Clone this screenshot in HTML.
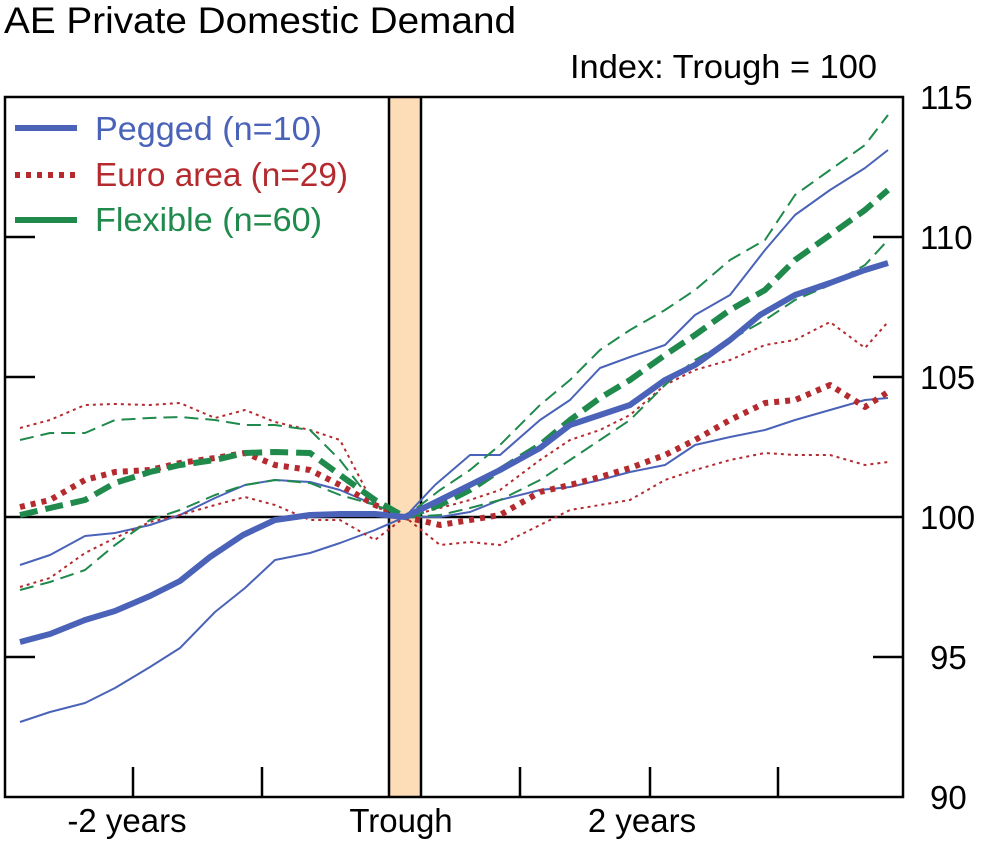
<!DOCTYPE html>
<html><head><style>
body{margin:0;background:#fff;}
svg text{font-family:"Liberation Sans",sans-serif;}
</style></head><body>
<svg width="988" height="841" viewBox="0 0 988 841" xmlns="http://www.w3.org/2000/svg">
<rect x="389" y="97" width="32" height="700" fill="#fddcb8"/>
<text x="4" y="33" font-size="37" fill="#000" textLength="512" lengthAdjust="spacingAndGlyphs">AE Private Domestic Demand</text>
<text x="877" y="78" font-size="33" text-anchor="end" fill="#000" textLength="307" lengthAdjust="spacingAndGlyphs">Index: Trough = 100</text>
<g stroke="#000" stroke-width="2.5" fill="none">
<rect x="5" y="97" width="898" height="700"/>
<line x1="5" y1="517" x2="903" y2="517"/>
<line x1="389" y1="97" x2="389" y2="797"/>
<line x1="421" y1="97" x2="421" y2="797"/>
<line x1="903" y1="237" x2="873" y2="237"/><line x1="903" y1="377" x2="873" y2="377"/><line x1="903" y1="657" x2="873" y2="657"/>
<line x1="5" y1="237" x2="35" y2="237"/><line x1="5" y1="377" x2="35" y2="377"/><line x1="5" y1="657" x2="35" y2="657"/>
<line x1="133" y1="797" x2="133" y2="767"/><line x1="262" y1="797" x2="262" y2="767"/><line x1="520" y1="797" x2="520" y2="767"/><line x1="650" y1="797" x2="650" y2="767"/><line x1="778" y1="797" x2="778" y2="767"/>
</g>
<g font-size="33" fill="#000">
<text x="920" y="109">115</text><text x="920" y="249">110</text><text x="920" y="389">105</text><text x="920" y="529">100</text><text x="930" y="669">95</text><text x="930" y="809">90</text>
<text x="127" y="832" text-anchor="middle">-2 years</text>
<text x="401" y="832" text-anchor="middle">Trough</text>
<text x="642" y="832" text-anchor="middle">2 years</text>
</g>
<g fill="none" stroke-linejoin="round">
<polyline stroke="#4a63b8" stroke-width="2" points="20,565 50,555 85,536 115,533 150,525 180,515 215,498 245,485 275,480 310,482 340,490 375,505 405,517 435,485 470,455 500,455 540,420 570,400 600,368 630,357 665,345 695,315 730,295 765,250 795,215 830,190 865,168 888,150"/>
<polyline stroke="#4a63b8" stroke-width="2" points="20,722 50,712 85,703 115,688 150,667 180,648 215,612 245,588 275,560 310,553 340,543 375,530 405,517 440,517 470,512 500,500 540,490 570,487 600,480 630,472 665,465 695,445 730,437 765,430 795,420 830,410 865,400 888,398"/>
<polyline stroke="#b52a2e" stroke-width="2" stroke-dasharray="3,4" points="20,428 50,420 85,405 115,404 150,405 180,403 215,418 245,410 275,422 310,430 340,440 375,507 405,517 440,508 470,500 500,490 540,460 570,440 600,430 630,415 665,385 695,370 730,360 765,345 795,340 830,322 865,348 888,322"/>
<polyline stroke="#b52a2e" stroke-width="2" stroke-dasharray="3,4" points="20,587 50,578 85,553 115,538 150,522 180,515 215,505 245,497 275,505 310,520 340,520 375,540 405,517 440,545 470,542 500,545 540,525 570,510 600,505 630,500 665,480 695,470 730,460 765,453 795,455 830,455 865,465 888,462"/>
<polyline stroke="#1f8a4c" stroke-width="2" stroke-dasharray="14,7" points="20,440 50,433 85,433 115,420 150,418 180,417 215,420 245,425 275,425 310,430 340,460 375,505 405,517 440,490 470,470 500,445 540,405 570,380 600,350 630,330 665,310 695,290 730,260 765,240 795,195 830,170 865,145 888,115"/>
<polyline stroke="#1f8a4c" stroke-width="2" stroke-dasharray="14,7" points="20,590 50,582 85,570 115,545 150,520 180,510 215,495 245,485 275,480 310,483 340,495 375,505 405,517 440,515 470,508 500,500 540,480 570,460 600,440 630,420 665,385 695,360 730,340 765,320 795,300 830,285 865,265 888,240"/>
<polyline stroke="#b52a2e" stroke-width="6" stroke-dasharray="5,6" points="20,507 50,500 85,480 115,472 150,470 180,463 215,458 245,453 275,465 310,470 340,485 375,505 405,517 440,525 470,520 500,515 540,492 570,485 600,477 630,468 665,455 695,440 730,420 765,403 795,400 830,385 865,407 888,392"/>
<polyline stroke="#1f8a4c" stroke-width="6" stroke-dasharray="18,8" points="20,515 50,508 85,500 115,483 150,472 180,465 215,460 245,453 275,452 310,453 340,475 375,500 405,517 440,505 470,490 500,470 540,445 570,420 600,398 630,380 665,355 695,335 730,310 765,290 795,260 830,235 865,210 888,190"/>
<polyline stroke="#4a63b8" stroke-width="6" points="20,642 50,634 85,620 115,611 150,596 180,581 210,557 243,535 275,520 310,515 340,514 375,514 405,517 440,500 470,485 500,470 540,448 570,425 600,415 630,405 665,380 695,365 730,340 760,315 795,295 830,283 865,270 888,263"/>
<line x1="15" y1="128" x2="77" y2="128" stroke="#4a63b8" stroke-width="6"/>
<line x1="15" y1="175" x2="77" y2="175" stroke="#b52a2e" stroke-width="6" stroke-dasharray="5,6"/>
<line x1="15" y1="220" x2="77" y2="220" stroke="#1f8a4c" stroke-width="6"/>
</g>
<g font-size="33">
<text x="95" y="140" fill="#4a63b8" textLength="227" lengthAdjust="spacingAndGlyphs">Pegged (n=10)</text>
<text x="95" y="186" fill="#b52a2e" textLength="253" lengthAdjust="spacingAndGlyphs">Euro area (n=29)</text>
<text x="95" y="231" fill="#1f8a4c" textLength="227" lengthAdjust="spacingAndGlyphs">Flexible (n=60)</text>
</g>
</svg>
</body></html>
